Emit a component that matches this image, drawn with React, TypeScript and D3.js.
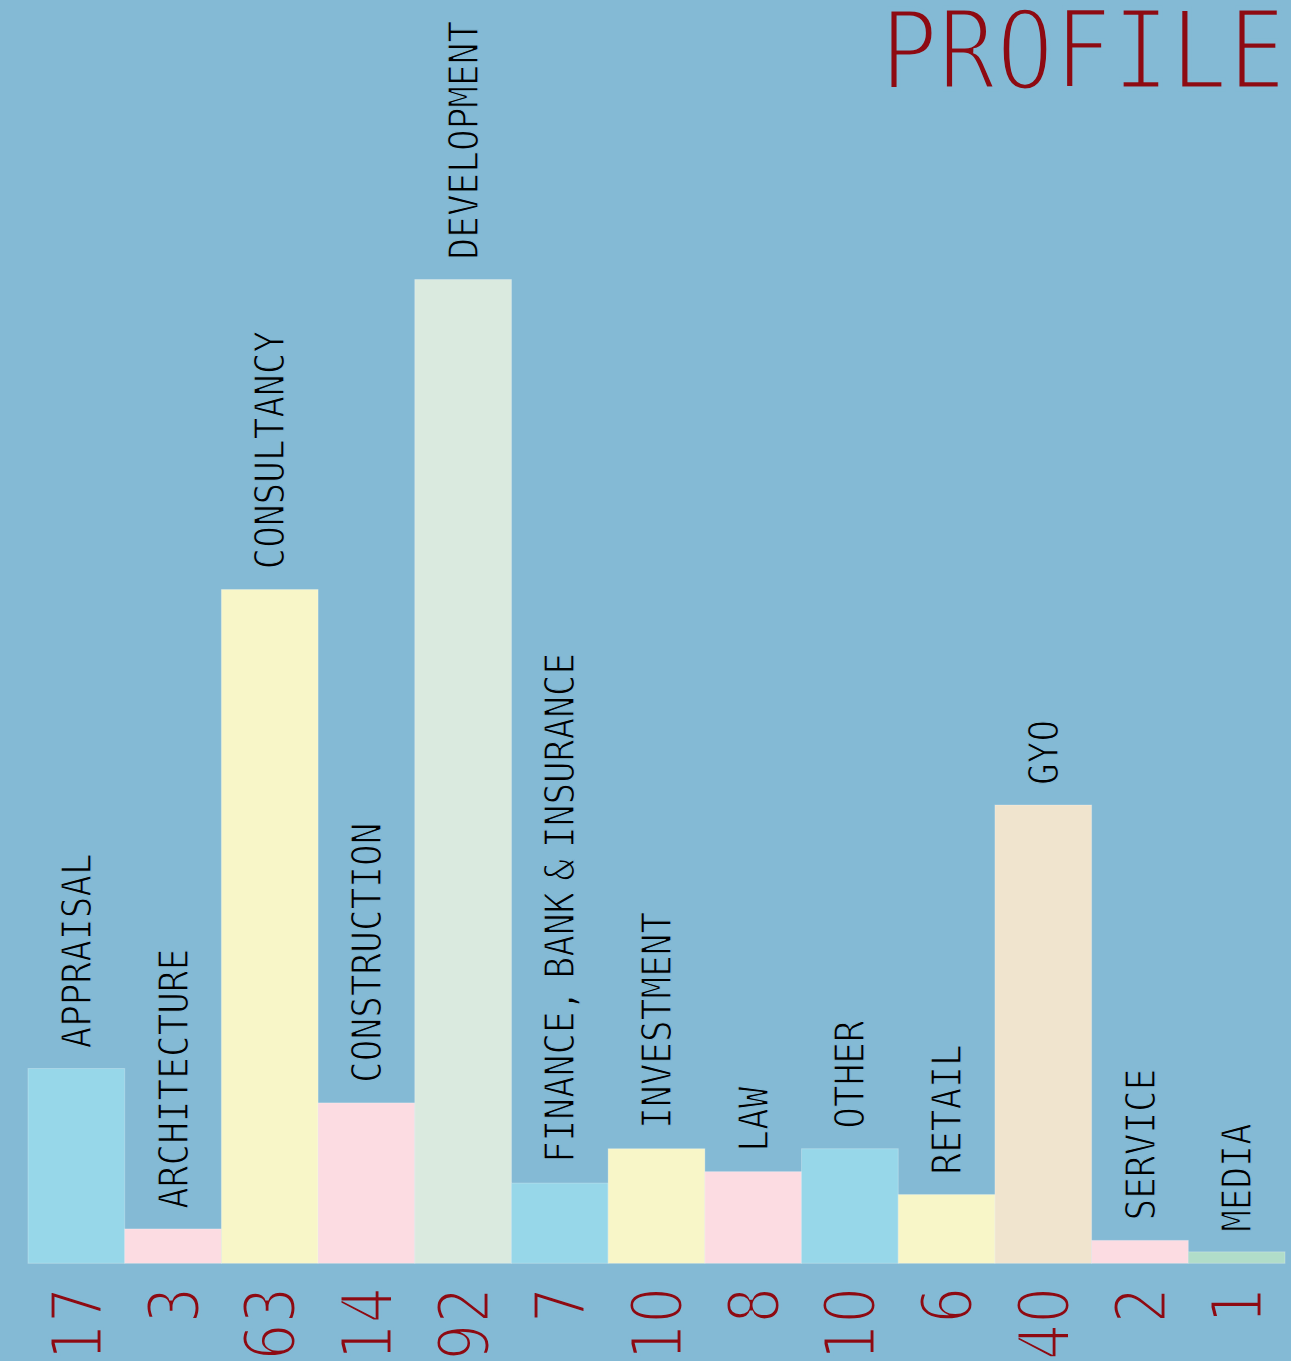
import React from "react";
import * as d3 from "d3";

const categories = [
  "APPRAISAL",
  "ARCHITECTURE",
  "CONSULTANCY",
  "CONSTRUCTION",
  "DEVELOPMENT",
  "FINANCE, BANK & INSURANCE",
  "INVESTMENT",
  "LAW",
  "OTHER",
  "RETAIL",
  "GYO",
  "SERVICE",
  "MEDIA",
];
const values = [17, 3, 63, 14, 92, 7, 10, 8, 10, 6, 40, 2, 1];
const barColors = [
  "#97D7E9",
  "#FCDCE2",
  "#F8F6C8",
  "#FCDCE2",
  "#DAEADF",
  "#97D7E9",
  "#F8F6C8",
  "#FCDCE2",
  "#97D7E9",
  "#F8F6C8",
  "#F0E4CE",
  "#FCDCE2",
  "#B1DDC9",
];
const title = "PROFILE";

const W = 1291;
const H = 1361;
const BG = "#84BAD5";
const RED = "#8E0A12";
const FONT = "'DejaVu Sans Mono', monospace";
const NUM_FONT = "'DejaVu Sans', sans-serif";

export default function App() {
  const baseline = 1263.3;
  const x = d3.scaleBand<string>().domain(categories).range([28, 1285]).padding(0);
  // bar heights as drawn in the reference (piecewise linear)
  const y = d3
    .scaleLinear()
    .domain([0, 40, 63, 92])
    .range([baseline, 805, 589.5, 279.5]);

  return (
    <svg
      width={W}
      height={H}
      style={{ position: "absolute", left: 0, top: 0, display: "block" }}
    >
      <rect x={0} y={0} width={W} height={H} fill={BG} />
      <text
        x={1286}
        y={89}
        textAnchor="end"
        fontFamily={FONT}
        fontSize={111}
        fill={RED}
        stroke={BG}
        strokeWidth={5}
        transform={`translate(1286,0) scale(0.868,1) translate(-1286,0)`}
      >
        {title}
      </text>
      {categories.map((c, i) => {
        const bx = x(c)!;
        const bw = x.bandwidth();
        const top = y(values[i]);
        const cx = bx + bw / 2;
        return (
          <g key={c}>
            <rect
              x={bx}
              y={top}
              width={bw}
              height={baseline - top}
              fill={barColors[i]}
              stroke="rgba(255,255,255,0.25)"
              strokeWidth={1}
            />
            <text
              transform={`translate(${cx},${top - 20}) rotate(-90) scale(0.89,1)`}
              dy="0.36em"
              textAnchor="start"
              fontFamily={FONT}
              fontSize={40.5}
              wordSpacing={-12}
              fill="#000"
              stroke={BG}
              strokeWidth={1.2}
            >
              {c}
            </text>
            <text
              transform={`translate(${cx},1287) rotate(-90) scale(0.81,1)`}
              dy="0.36em"
              textAnchor="end"
              fontFamily={NUM_FONT}
              fontSize={71}
              fill={RED}
              stroke={BG}
              strokeWidth={3}
            >
              {values[i]}
            </text>
          </g>
        );
      })}
    </svg>
  );
}
